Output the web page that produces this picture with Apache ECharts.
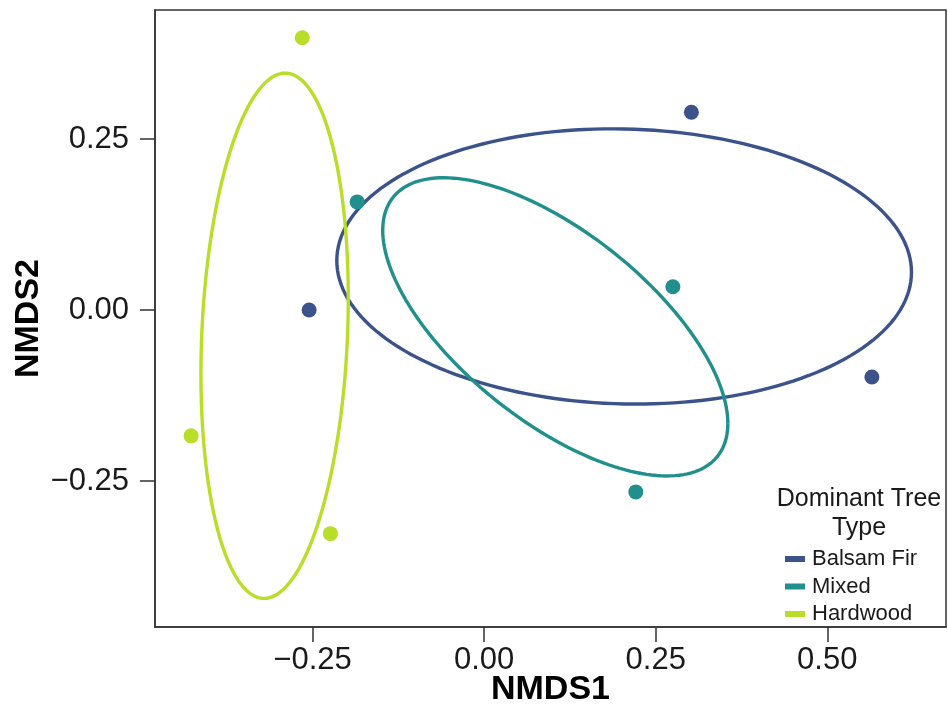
<!DOCTYPE html>
<html>
<head>
<meta charset="utf-8">
<script src="https://cdn.jsdelivr.net/npm/echarts@6/dist/echarts.min.js"></script>
<style>
html,body{margin:0;padding:0;background:#fff;}
#chart{width:948px;height:709px;}
</style>
</head>
<body>
<div id="chart"></div>
<script>
// ---- data ----
const categories = ['Balsam Fir', 'Mixed', 'Hardwood'];
const balsamX = [-0.255, 0.302, 0.565];
const balsamY = [0.000, 0.289, -0.098];
const mixedX = [-0.185, 0.275, 0.221];
const mixedY = [0.158, 0.034, -0.266];
const hardwoodX = [-0.265, -0.427, -0.224];
const hardwoodY = [0.398, -0.184, -0.327];
const xTicks = [-0.25, 0, 0.25, 0.5];
const xTickLabels = ['\u22120.25', '0.00', '0.25', '0.50'];
const yTicks = [-0.25, 0, 0.25];
const yTickLabels = ['\u22120.25', '0.00', '0.25'];

const colors = ['#3B528B', '#21908C', '#B8DE29'];
const groupsX = [balsamX, mixedX, hardwoodX];
const groupsY = [balsamY, mixedY, hardwoodY];
const FONT = 'Liberation Sans';

function pairs(xs, ys) { return xs.map((x, i) => [x, ys[i]]); }

// 1-SD ellipse (mean + Cholesky of sample covariance), like vegan::ordiellipse(kind="sd")
function ellipseSeries(name, xs, ys, color) {
  const n = xs.length;
  const mx = xs.reduce((a, b) => a + b, 0) / n;
  const my = ys.reduce((a, b) => a + b, 0) / n;
  let sxx = 0, syy = 0, sxy = 0;
  for (let i = 0; i < n; i++) {
    sxx += (xs[i] - mx) ** 2; syy += (ys[i] - my) ** 2; sxy += (xs[i] - mx) * (ys[i] - my);
  }
  sxx /= (n - 1); syy /= (n - 1); sxy /= (n - 1);
  const L11 = Math.sqrt(sxx), L21 = sxy / L11, L22 = Math.sqrt(syy - L21 * L21);
  return {
    type: 'custom', name: name, silent: true, z: 1,
    itemStyle: { color: color },
    data: [[mx, my]],
    renderItem: function (params, api) {
      const pts = [];
      const N = 180;
      for (let k = 0; k <= N; k++) {
        const a = 2 * Math.PI * k / N, c = Math.cos(a), s = Math.sin(a);
        pts.push(api.coord([mx + L11 * c, my + L21 * c + L22 * s]));
      }
      return { type: 'polyline', shape: { points: pts }, style: { fill: null, stroke: color, lineWidth: 3.4 } };
    }
  };
}

const series = [];
categories.forEach((name, i) => {
  series.push({
    type: 'scatter', name: name, symbolSize: 15, z: 3,
    itemStyle: { color: colors[i], opacity: 1 },
    data: pairs(groupsX[i], groupsY[i])
  });
});
categories.forEach((name, i) => series.push(ellipseSeries(name, groupsX[i], groupsY[i], colors[i])));

const axisLineStyle = { color: '#333', width: 1.5 };
const chart = echarts.init(document.getElementById('chart'), null, { renderer: 'canvas' });
chart.setOption({
  animation: false,
  backgroundColor: '#fff',
  textStyle: { fontFamily: FONT },
  grid: { left: 155, right: 2, top: 10, bottom: 82, containLabel: false, outerBoundsMode: 'none',
          show: true, borderColor: '#333', borderWidth: 1.5, backgroundColor: 'transparent' },
  xAxis: {
    type: 'value', min: -0.4796, max: 0.673,
    name: 'NMDS1', nameLocation: 'middle', nameGap: 46, nameMoveOverlap: false,
    nameTextStyle: { fontFamily: FONT, fontSize: 34, fontWeight: 'bold', color: '#000' },
    axisLine: { show: true, onZero: false, lineStyle: axisLineStyle },
    splitLine: { show: false },
    axisTick: { show: true, customValues: xTicks, length: 15, lineStyle: axisLineStyle },
    axisLabel: {
      customValues: xTicks, margin: 18, fontSize: 31, color: '#1a1a1a', fontFamily: FONT,
      formatter: v => xTickLabels[xTicks.findIndex(t => Math.abs(t - v) < 1e-9)]
    }
  },
  yAxis: {
    type: 'value', min: -0.4635, max: 0.4386,
    name: 'NMDS2', nameLocation: 'middle', nameGap: 109, nameRotate: 90, nameMoveOverlap: false,
    nameTextStyle: { fontFamily: FONT, fontSize: 34, fontWeight: 'bold', color: '#000' },
    axisLine: { show: true, onZero: false, lineStyle: axisLineStyle },
    splitLine: { show: false },
    axisTick: { show: true, customValues: yTicks, length: 15, lineStyle: axisLineStyle },
    axisLabel: {
      customValues: yTicks, margin: 26, fontSize: 31, color: '#1a1a1a', fontFamily: FONT,
      formatter: v => yTickLabels[yTicks.findIndex(t => Math.abs(t - v) < 1e-9)]
    }
  },
  legend: {
    orient: 'vertical', left: 785, top: 548, padding: 0,
    itemWidth: 20, itemHeight: 6, itemGap: 5.5,
    data: categories.map(n => ({ name: n, icon: 'rect' })),
    textStyle: { fontFamily: FONT, fontSize: 22, lineHeight: 22, color: '#1a1a1a', padding: [0, 0, 0, 2] },
    selectedMode: false
  },
  graphic: [{
    type: 'text', x: 859, y: 485, silent: true,
    style: { text: 'Dominant Tree\nType', textAlign: 'center', font: '25px "Liberation Sans"', lineHeight: 29, fill: '#1a1a1a' }
  }],
  series: series
});
</script>
</body>
</html>
